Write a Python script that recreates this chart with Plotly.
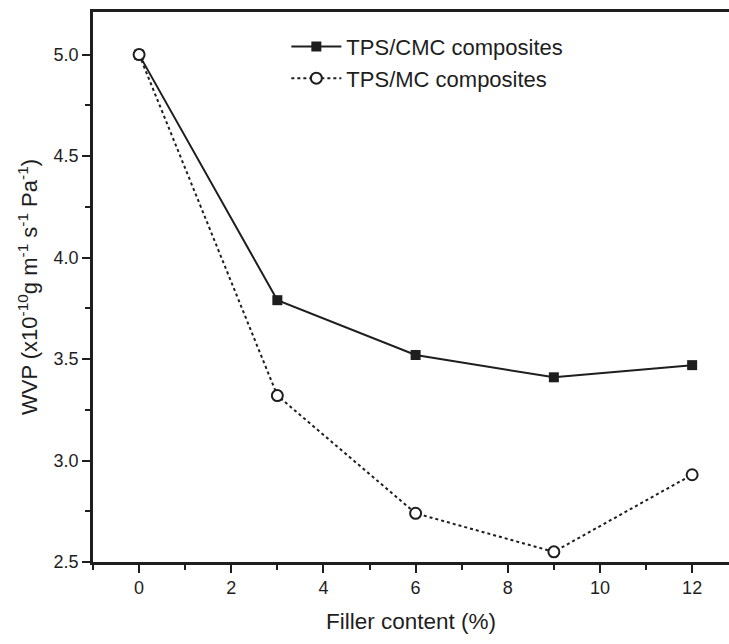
import plotly.graph_objects as go

filler = [0, 3, 6, 9, 12]
cmc = [5.0, 3.79, 3.52, 3.41, 3.47]
mc = [5.0, 3.32, 2.74, 2.55, 2.93]
x_ticks = [0, 2, 4, 6, 8, 10, 12]
y_ticks = [2.5, 3.0, 3.5, 4.0, 4.5, 5.0]

ink = "#1e1e1e"
fnt = "Liberation Sans, Arial, sans-serif"

fig = go.Figure()
fig.add_trace(go.Scatter(
    x=filler, y=cmc, name="TPS/CMC composites", mode="lines+markers",
    line=dict(color=ink, width=2),
    marker=dict(symbol="square", size=10, color=ink)))
fig.add_trace(go.Scatter(
    x=filler, y=mc, name="TPS/MC composites", mode="lines+markers",
    line=dict(color=ink, width=2, dash="dot"),
    marker=dict(symbol="circle", size=11, color="white", line=dict(width=2, color=ink))))

fig.update_layout(
    width=729, height=644,
    margin=dict(l=93, r=0, t=12, b=82),
    paper_bgcolor="white", plot_bgcolor="white",
    font=dict(family=fnt, color=ink, size=19),
    legend=dict(x=0.304, y=0.975, xanchor="left", yanchor="top",
                bgcolor="rgba(0,0,0,0)", font=dict(size=22),
                itemwidth=50, tracegroupgap=0),
    xaxis=dict(range=[-1, 12.8], tickvals=x_ticks, ticks="outside", ticklen=8,
               tickwidth=2, tickcolor=ink, showline=True, linecolor=ink, linewidth=2.5,
               mirror=True, showgrid=False, zeroline=False,
               minor=dict(dtick=1, tick0=1, ticks="outside", ticklen=5, tickwidth=2, tickcolor=ink),
               title=dict(text="Filler content (%)", font=dict(size=22.5), standoff=16),
               tickfont=dict(size=18)),
    yaxis=dict(range=[2.5, 5.21], tickvals=y_ticks, tickformat=".1f", ticks="outside",
               ticklen=8, tickwidth=2, tickcolor=ink, showline=True, linecolor=ink,
               linewidth=2.5, showgrid=False, zeroline=False,
               minor=dict(dtick=0.25, tick0=2.5, ticks="outside", ticklen=5, tickwidth=2, tickcolor=ink),
               title=dict(text="WVP (x10<sup>-10</sup>g m<sup>-1</sup> s<sup>-1</sup> Pa<sup>-1</sup>)",
                          font=dict(size=22), standoff=10),
               tickfont=dict(size=18)),
)

fig.write_html("out.html")
